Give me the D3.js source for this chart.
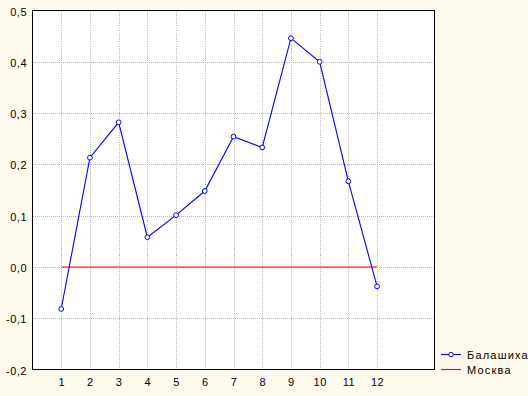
<!DOCTYPE html>
<html>
<head>
<meta charset="utf-8">
<script src="https://cdn.jsdelivr.net/npm/d3@7"></script>
<style>
  body { margin: 0; background: #fffaee; }
  svg { display: block; font-family: Arial, "Liberation Sans", sans-serif; }
  .grid line { stroke: #b8b8b8; stroke-dasharray: 1,1; shape-rendering: crispEdges; }
  .frame { stroke: #000; shape-rendering: crispEdges; }
  .lbl { font-size: 11px; fill: #000; letter-spacing: 0.5px; }
  .legend text { font-size: 11px; letter-spacing: 1.2px; }
</style>
</head>
<body>
<script>
var width = 528;
var height = 396;
var margin = {left: 32.5, top: 10.5, right: 434.5, bottom: 369.5};

// months 1..12
var months = [1, 2, 3, 4, 5, 6, 7, 8, 9, 10, 11, 12];
var balashikha = [-0.082, 0.213, 0.282, 0.058, 0.101, 0.148, 0.254, 0.233, 0.446, 0.400, 0.167, -0.038];
var moskva = [0, 0, 0, 0, 0, 0, 0, 0, 0, 0, 0, 0];
var yTicks = [-0.2, -0.1, 0.0, 0.1, 0.2, 0.3, 0.4, 0.5];
var seriesNames = ['Балашиха', 'Москва'];
var seriesColors = ['#0000ff', '#ff0000'];

var x = d3.scaleLinear().domain([0, 14]).range([margin.left, margin.right]);
var y = d3.scaleLinear().domain([-0.2, 0.5]).range([margin.bottom, margin.top]);

function fmt(v) {
  return d3.format('.1f')(v).replace('.', ',').replace('−', '-');
}

var svg = d3.select('body').append('svg')
  .attr('width', width)
  .attr('height', height);

// white plot area
svg.append('rect')
  .attr('x', margin.left)
  .attr('y', margin.top)
  .attr('width', margin.right - margin.left)
  .attr('height', margin.bottom - margin.top)
  .attr('fill', '#fff');

var grid = svg.append('g').attr('class', 'grid');
grid.selectAll('line.h')
  .data(yTicks.slice(1, -1))
  .enter().append('line')
  .attr('x1', margin.left)
  .attr('x2', margin.right)
  .attr('y1', function (d) { return Math.round(y(d)) + 0.5; })
  .attr('y2', function (d) { return Math.round(y(d)) + 0.5; });
grid.selectAll('line.v')
  .data(months)
  .enter().append('line')
  .attr('y1', margin.top)
  .attr('y2', margin.bottom)
  .attr('x1', function (d) { return Math.round(x(d)) + 0.5; })
  .attr('x2', function (d) { return Math.round(x(d)) + 0.5; });

svg.append('rect')
  .attr('class', 'frame')
  .attr('x', margin.left)
  .attr('y', margin.top)
  .attr('width', margin.right - margin.left)
  .attr('height', margin.bottom - margin.top)
  .attr('fill', 'none');

// y labels
svg.selectAll('text.ylab')
  .data(yTicks)
  .enter().append('text')
  .attr('class', 'lbl')
  .attr('x', 27)
  .attr('y', function (d) { return y(d) + 5; })
  .attr('text-anchor', 'end')
  .text(fmt);

// x labels
svg.selectAll('text.xlab')
  .data(months)
  .enter().append('text')
  .attr('class', 'lbl')
  .attr('x', function (d) { return x(d) + 0.5; })
  .attr('y', 386)
  .attr('text-anchor', 'middle')
  .text(function (d) { return d; });

var line = d3.line()
  .x(function (d, i) { return x(months[i]); })
  .y(function (d) { return y(d); });

svg.append('path')
  .datum(moskva)
  .attr('d', line)
  .attr('fill', 'none')
  .attr('stroke', seriesColors[1])
  .attr('stroke-width', 1.1);

svg.append('path')
  .datum(balashikha)
  .attr('d', line)
  .attr('fill', 'none')
  .attr('stroke', seriesColors[0])
  .attr('stroke-width', 1.1);

svg.selectAll('circle.pt')
  .data(balashikha)
  .enter().append('circle')
  .attr('cx', function (d, i) { return x(months[i]); })
  .attr('cy', function (d) { return y(d); })
  .attr('r', 2.4)
  .attr('fill', '#fff')
  .attr('stroke', seriesColors[0])
  .attr('stroke-width', 1);

// legend
var legend = svg.append('g').attr('class', 'legend');
seriesNames.forEach(function (name, i) {
  var ly = 354.5 + i * 15;
  legend.append('line')
    .attr('x1', 441).attr('x2', 461)
    .attr('y1', ly).attr('y2', ly)
    .attr('stroke', seriesColors[i])
    .attr('stroke-width', 1.1);
  if (i === 0) {
    legend.append('circle')
      .attr('cx', 451).attr('cy', ly).attr('r', 2.2)
      .attr('fill', '#fff').attr('stroke', seriesColors[i]);
  }
  legend.append('text')
    .attr('x', 467)
    .attr('y', ly + 4)
    .text(name);
});
</script>
</body>
</html>
